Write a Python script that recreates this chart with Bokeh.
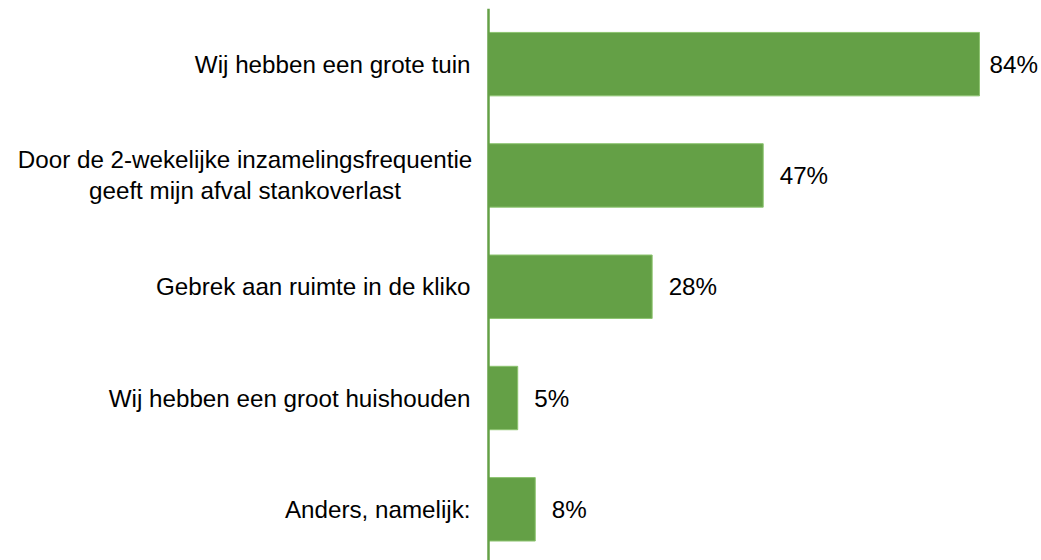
from bokeh.plotting import figure
from bokeh.models import Range1d, ColumnDataSource, Span
from bokeh.embed import file_html
from bokeh.resources import INLINE
from bokeh.core.properties import value

categories = [
    "Wij hebben een grote tuin",
    "Door de 2-wekelijke inzamelingsfrequentie\ngeeft mijn afval stankoverlast",
    "Gebrek aan ruimte in de kliko",
    "Wij hebben een groot huishouden",
    "Anders, namelijk:",
]
values = [84, 47, 28, 5, 8]
value_labels = ["84%", "47%", "28%", "5%", "8%"]

FONT = "Liberation Sans"
FSIZE = "24.2px"
GREEN = "#64A046"
STANDOFF = 18
PX_PER_UNIT = 5.845   # horizontal scale (px per %)
AXIS_PX = 488         # position of the value axis from the left edge

n = len(categories)
ypos = [n - 0.5 - i for i in range(n)]
offsets = [10 if v > 80 else 16.5 for v in values]

src = ColumnDataSource(dict(y=ypos, v=values, lab=value_labels, off=offsets))

single = [(y, c) for y, c in zip(ypos, categories) if "\n" not in c]
multi = [(y, c) for y, c in zip(ypos, categories) if "\n" in c]
src_single = ColumnDataSource(dict(y=[s[0] for s in single], t=[s[1] for s in single]))
src_multi = ColumnDataSource(dict(y=[m[0] for m in multi], t=[m[1] for m in multi]))

W, H = 1041, 560
p = figure(
    width=W, height=H,
    x_range=Range1d(-AXIS_PX / PX_PER_UNIT, (W - AXIS_PX) / PX_PER_UNIT),
    y_range=Range1d(0.04, 5.0),
    x_axis_location=None, y_axis_location=None,
    toolbar_location=None, output_backend="svg",
    min_border_left=0, min_border_right=0, min_border_top=8, min_border_bottom=0,
)
p.outline_line_color = None
p.xgrid.visible = False
p.ygrid.visible = False

p.hbar(y="y", left=0, right="v", height=0.57, source=src,
       fill_color=GREEN, line_color="#8DC470", line_width=1)

p.add_layout(Span(location=0, dimension="height", line_color=GREEN, line_width=2.5))

p.text(x="v", y="y", text="lab", x_offset="off", source=src,
       text_align="left", text_baseline="middle",
       text_font=value(FONT), text_font_size=FSIZE, text_color="#000000")

# category labels
p.text(x=0, y="y", text="t", x_offset=-STANDOFF, source=src_single,
       text_align="right", text_baseline="middle",
       text_font=value(FONT), text_font_size=FSIZE, text_color="#000000")
p.text(x=0, y="y", text="t", x_offset=-(STANDOFF + 225.5), source=src_multi,
       text_align="center", text_baseline="middle", text_line_height=1.15,
       text_font=value(FONT), text_font_size=FSIZE, text_color="#000000")

open("out.html", "w").write(file_html(p, INLINE))
